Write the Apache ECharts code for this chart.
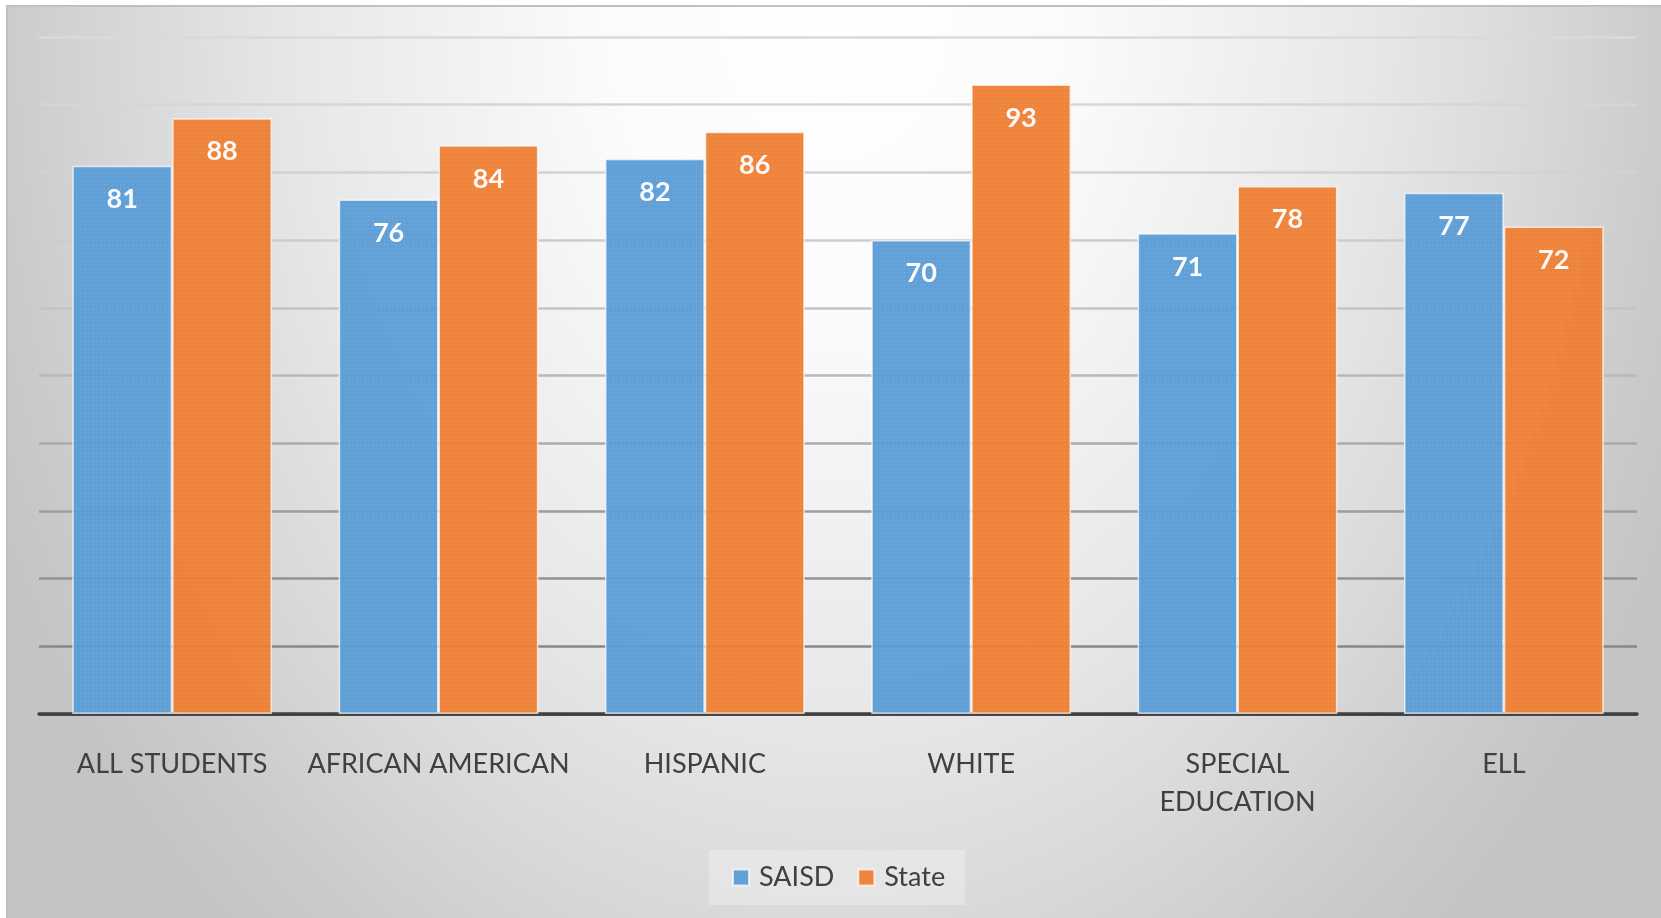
<!DOCTYPE html>
<html>
<head>
<meta charset="utf-8">
<script src="https://cdn.jsdelivr.net/npm/echarts@6/dist/echarts.min.js"></script>
<style>
  html, body { margin: 0; padding: 0; background: #ffffff; }
  #chart { width: 1661px; height: 918px; }
</style>
</head>
<body>
<div id="chart"></div>
<script>
const categories = ['ALL STUDENTS', 'AFRICAN AMERICAN', 'HISPANIC', 'WHITE', 'SPECIAL EDUCATION', 'ELL'];
const saisdValues = [81, 76, 82, 70, 71, 77];
const stateValues = [88, 84, 86, 93, 78, 72];
const seriesNames = ['SAISD', 'State'];

const FONT = 'Lato, "Open Sans", sans-serif';
const W = 1661, H = 918;
const frameX = 7, frameY = 6;
const k = 1.32;
const fw = W - frameX, fh = H - frameY;

const chart = echarts.init(document.getElementById('chart'), null, { renderer: 'canvas' });

const barDecal = {
  symbol: 'rect', symbolSize: 1,
  dashArrayX: [1, 3], dashArrayY: [1, 3],
  color: 'rgba(255,255,255,0.16)'
};

const option = {
  backgroundColor: '#ffffff',
  animation: false,
  graphic: {
    elements: [
      {
        type: 'rect',
        z: -100,
        silent: true,
        x: frameX, y: frameY,
        scaleY: k,
        shape: { x: 0, y: 0, width: fw, height: fh / k },
        style: {
          fill: {
            type: 'radial', global: true,
            x: fw * 0.5, y: 0, r: 930,
            colorStops: [
              { offset: 0, color: '#ffffff' },
              { offset: 0.25, color: '#fbfbfb' },
              { offset: 0.57, color: '#e8e8e8' },
              { offset: 0.75, color: '#d9d9d9' },
              { offset: 0.9, color: '#cbcbcb' },
              { offset: 1, color: '#c4c4c4' }
            ]
          }
        }
      },
      {
        type: 'rect', z: -99, silent: true,
        shape: { x: frameX, y: frameY, width: fw + 10, height: fh + 10 },
        style: { fill: 'none', stroke: '#c0c0c0', lineWidth: 2 }
      }
    ]
  },
  grid: { left: 39, right: 24, top: 37, bottom: 204, containLabel: false },
  legend: {
    data: seriesNames,
    left: 709, top: 850,
    padding: [14, 20, 14, 23],
    itemWidth: 16, itemHeight: 16, itemGap: 23,
    icon: 'rect',
    backgroundColor: 'rgba(236,236,236,0.55)',
    textStyle: { fontFamily: FONT, fontSize: 27, color: '#404040', padding: [0, 0, 0, 5] }
  },
  xAxis: {
    type: 'category',
    data: categories,
    axisLine: { show: true, lineStyle: { color: '#404040', width: 3.5 } },
    axisTick: { show: false },
    splitLine: { show: false },
    axisLabel: {
      interval: 0,
      margin: 31,
      fontFamily: FONT, fontSize: 27, lineHeight: 38, color: '#404040',
      formatter: v => v === 'SPECIAL EDUCATION' ? 'SPECIAL\nEDUCATION' : v
    }
  },
  yAxis: {
    type: 'value', min: 0, max: 100, interval: 10,
    axisLine: { show: false }, axisTick: { show: false }, axisLabel: { show: false },
    splitLine: {
      show: true,
      lineStyle: {
        width: 2.5,
        color: ['#404040', '#878787', '#929292', '#9d9d9d', '#ababab', '#b8b8b8', '#c4c4c4', '#cccccc', '#d2d2d2', '#d6d6d6', '#dadada']
      }
    }
  },
  series: [
    {
      name: seriesNames[0], type: 'bar', data: saisdValues,
      barCategoryGap: '25%', barGap: '0%',
      itemStyle: { color: '#5c9cd6', borderColor: 'rgba(255,255,255,0.45)', borderWidth: 1.5, opacity: 0.96, decal: barDecal },
      label: { show: true, position: 'insideTop', distance: 20, color: '#ffffff', fontFamily: FONT, fontWeight: 'bold', fontSize: 27, lineHeight: 27 }
    },
    {
      name: seriesNames[1], type: 'bar', data: stateValues,
      barCategoryGap: '25%', barGap: '0%',
      itemStyle: { color: '#ee7f35', borderColor: 'rgba(255,255,255,0.45)', borderWidth: 1.5, opacity: 0.96, decal: barDecal },
      label: { show: true, position: 'insideTop', distance: 20, color: '#ffffff', fontFamily: FONT, fontWeight: 'bold', fontSize: 27, lineHeight: 27 }
    }
  ]
};
chart.setOption(option);
</script>
</body>
</html>
